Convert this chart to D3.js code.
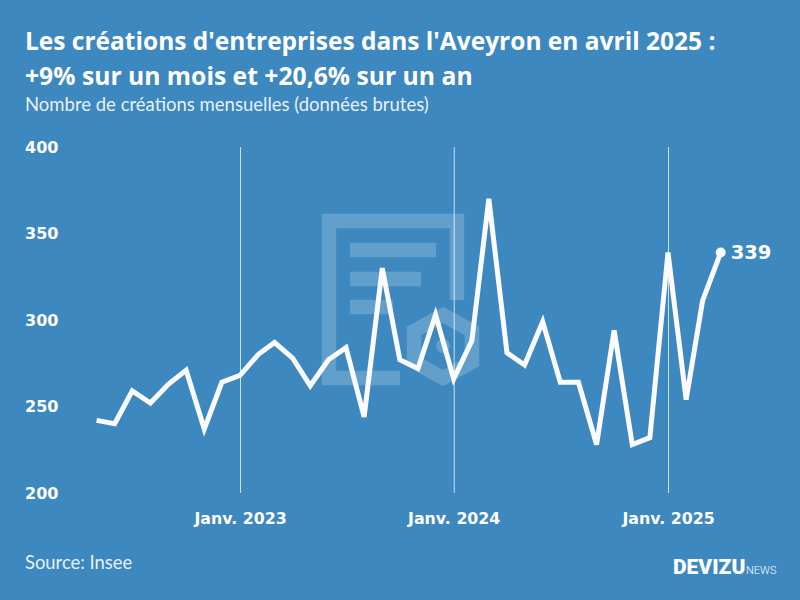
<!DOCTYPE html>
<html>
<head>
<meta charset="utf-8">
<script src="https://cdn.jsdelivr.net/npm/d3@7"></script>
<style>
html, body { margin: 0; padding: 0; background: #3d88bf; }
svg { display: block; }
text { fill: #fff; }
</style>
</head>
<body>
<svg id="graph" width="800" height="600"></svg>
<script>
const months = ["2022-05","2022-06","2022-07","2022-08","2022-09","2022-10","2022-11","2022-12",
  "2023-01","2023-02","2023-03","2023-04","2023-05","2023-06","2023-07","2023-08","2023-09","2023-10","2023-11","2023-12",
  "2024-01","2024-02","2024-03","2024-04","2024-05","2024-06","2024-07","2024-08","2024-09","2024-10","2024-11","2024-12",
  "2025-01","2025-02","2025-03","2025-04"];
const creations = [242,240,259,252,263,271,237,264,
  268,280,287,278,262,277,284,244,330,277,272,303,
  266,288,370,281,274,299,264,264,228,294,228,232,
  339,254,311,339];
const yTicks = [200,250,300,350,400];
const xTicks = ["2023-01","2024-01","2025-01"];
const xTickLabels = ["Janv. 2023","Janv. 2024","Janv. 2025"];

const parseMonth = d3.timeParse("%Y-%m");

const svg = d3.select("#graph");

const x = d3.scaleTime()
    .domain([parseMonth("2023-01"), parseMonth("2025-01")])
    .range([240, 668]);
const y = d3.scaleLinear().domain([200, 400]).range([493, 147]);

// watermark
const mark = svg.append("g")
    .attr("fill", "none")
    .attr("stroke", "#fff")
    .attr("stroke-opacity", 0.2)
    .attr("stroke-width", 14.5);
mark.append("path").attr("d", "M400,378H329V221H457V300");
mark.append("path").attr("d", "M350,250H436M350,279H421M350,307H393");
mark.append("path").attr("d", "M443,315L472,331V362L443,378L414,362V331Z");
svg.append("circle").attr("cx", 443).attr("cy", 346).attr("r", 7)
    .attr("fill", "#fff").attr("fill-opacity", 0.2);

// axes
const xAxis = d3.axisBottom(x)
    .tickValues(xTicks.map(parseMonth))
    .tickSize(-(y(200) - y(400)))
    .tickFormat((d, i) => xTickLabels[i]);
const xg = svg.append("g").attr("transform", `translate(0,${y(200)})`).call(xAxis);
xg.select(".domain").remove();
xg.selectAll("line").attr("stroke", "#fff").attr("stroke-opacity", 0.75);
xg.selectAll("text")
    .attr("y", 26)
    .attr("dy", "0.32em")
    .attr("fill", "#fff")
    .attr("font-family", "'DejaVu Sans'")
    .attr("font-weight", 700)
    .attr("font-size", 15.8);

const yAxis = d3.axisLeft(y).tickValues(yTicks).tickSize(0);
const yg = svg.append("g").attr("transform", "translate(25,0)").call(yAxis);
yg.select(".domain").remove();
yg.selectAll("text")
    .attr("x", 0)
    .attr("text-anchor", "start")
    .attr("fill", "#fff")
    .attr("font-family", "'DejaVu Sans'")
    .attr("font-weight", 700)
    .attr("font-size", 16);

// line
const line = d3.line()
    .x((d, i) => x(parseMonth(months[i])))
    .y(d => y(d));
svg.append("path")
    .datum(creations)
    .attr("d", line)
    .attr("fill", "none")
    .attr("stroke", "#fbfbff")
    .attr("stroke-width", 5)
    .attr("stroke-linejoin", "miter");

const lastX = x(parseMonth(months[months.length - 1]));
const lastY = y(creations[creations.length - 1]);
svg.append("circle").attr("cx", lastX).attr("cy", lastY).attr("r", 5).attr("fill", "#fbfbff");
svg.append("text")
    .attr("x", lastX + 10).attr("y", lastY)
    .attr("dy", "0.35em")
    .attr("font-family", "'DejaVu Sans'")
    .attr("font-weight", 700)
    .attr("font-size", 19.5)
    .text(creations[creations.length - 1]);

// titles
svg.append("text").attr("x", 25).attr("y", 50)
    .attr("font-family", "'Open Sans'").attr("font-weight", 700).attr("font-size", 24.5)
    .text("Les créations d'entreprises dans l'Aveyron en avril 2025 :");
svg.append("text").attr("x", 25).attr("y", 85)
    .attr("font-family", "'Open Sans'").attr("font-weight", 700).attr("font-size", 24.7)
    .text("+9% sur un mois et +20,6% sur un an");
svg.append("text").attr("x", 25).attr("y", 111)
    .attr("font-family", "Lato").attr("font-size", 18.5).attr("fill-opacity", 0.9)
    .text("Nombre de créations mensuelles (données brutes)");

// source and logo
svg.append("text").attr("x", 25).attr("y", 569)
    .attr("font-family", "Lato").attr("font-size", 18.4).attr("fill-opacity", 0.9)
    .text("Source: Insee");
svg.append("text").attr("x", 673).attr("y", 574)
    .attr("font-family", "Roboto").attr("font-weight", 900).attr("font-size", 21)
    .text("DEVIZU");
svg.append("text").attr("x", 746).attr("y", 574)
    .attr("font-family", "Roboto").attr("font-weight", 300).attr("font-size", 11)
    .text("NEWS");
</script>
</body>
</html>
